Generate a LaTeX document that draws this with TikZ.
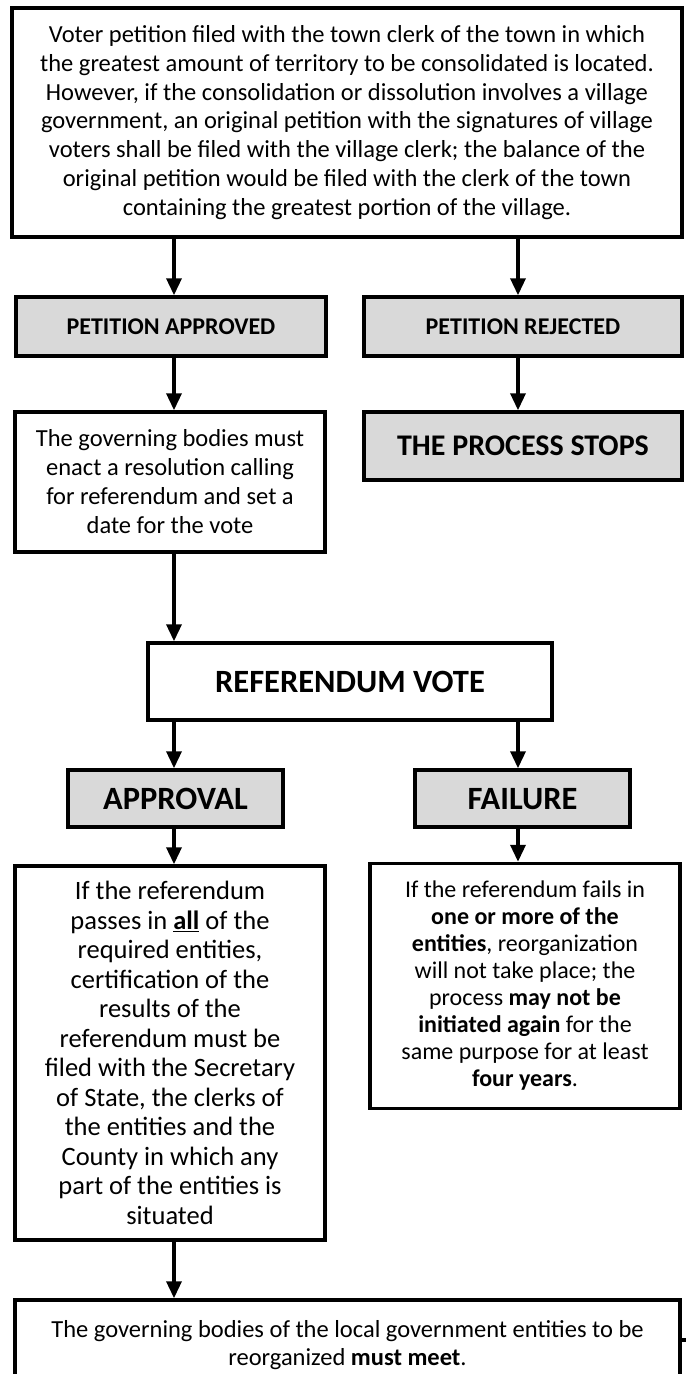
\documentclass[tikz,border=0pt]{standalone}
\usepackage{fontspec}
\setmainfont{Carlito}
\usetikzlibrary{arrows.meta}
\definecolor{boxgrey}{HTML}{D9D9D9}

\begin{document}
\begin{tikzpicture}[x=1pt, y=1pt, line width=3.5pt,
    box/.style={draw, fill=white, inner sep=0pt, align=center,
      font=\fontsize{24.5}{28.7}\selectfont},
    greybox/.style={box, fill=boxgrey, text height=15.5pt, text depth=0pt,
      font=\bfseries\fontsize{24}{28}\selectfont},
    bigbox/.style={greybox, text height=21pt,
      font=\bfseries\fontsize{32.5}{36}\selectfont},
    arr/.style={-{Triangle[width=15pt,length=17pt]}, line width=3.5pt}]
  \fill[white] (0,0) rectangle (686,-1374);
  \useasboundingbox (0,0) rectangle (686,-1374);
  \coordinate (colL) at (174,0);
  \coordinate (colR) at (518,0);
  % petition
  \node[box, minimum width=670pt, minimum height=229pt] (petition) at (347,-122.5)
    {Voter petition filed with the town clerk of the town in which\\
     the greatest amount of territory to be consolidated is located.\\
     However, if the consolidation or dissolution involves a village\\
     government, an original petition with the signatures of village\\
     voters shall be filed with the village clerk; the balance of the\\
     original petition would be filed with the clerk of the town\\
     containing the greatest portion of the village.};
  \node[greybox, minimum width=310pt, minimum height=59pt] (approved) at (171,-326.5)
    {PETITION APPROVED};
  \node[greybox, minimum width=318pt, minimum height=59pt] (rejected) at (523,-326.5)
    {PETITION REJECTED};
  \node[box, minimum width=310pt, minimum height=140pt,
    font=\fontsize{24.5}{29}\selectfont] (resolution) at (170,-482)
    {The governing bodies must\\ enact a resolution calling\\
     for referendum and set a\\ date for the vote};
  \node[greybox, minimum width=318pt, minimum height=68pt, text height=19.3pt,
    font=\bfseries\fontsize{30}{34}\selectfont] (stops) at (523,-446)
    {THE PROCESS STOPS};
  % referendum
  \node[bigbox, fill=white, minimum width=404pt, minimum height=77pt] (vote) at (350,-681.5)
    {REFERENDUM VOTE};
  \node[bigbox, minimum width=215pt, minimum height=57pt] (approval) at (175.5,-798.5)
    {APPROVAL};
  \node[bigbox, minimum width=215pt, minimum height=57pt] (failure) at (522.5,-798.5)
    {FAILURE};
  \node[box, minimum width=310pt, minimum height=374pt,
    font=\fontsize{26.5}{29.5}\selectfont] (passes) at (170,-1053)
    {If the referendum\\ passes in \textbf{\underline{all}} of the\\ required entities,\\
     certification of the\\ results of the\\ referendum must be\\
     filed with the Secretary\\ of State, the clerks of\\ the entities and the\\
     County in which any\\ part of the entities is\\ situated};
  \node[box, minimum width=310pt, minimum height=245pt,
    font=\fontsize{24}{27}\selectfont] (fails) at (525,-986)
    {If the referendum fails in\\ \textbf{one or more of the}\\
     \textbf{entities}, reorganization\\ will not take place; the\\
     process \textbf{may not be}\\ \textbf{initiated again} for the\\
     same purpose for at least\\ \textbf{four years}.};
  \node[box, minimum width=665pt, minimum height=90pt] (meet) at (347.5,-1345)
    {The governing bodies of the local government entities to be\\
     reorganized \textbf{must meet}.};
  \coordinate (stub) at (686,-1340);
  \draw (meet.east |- stub) -- (stub);
  % arrows
  \draw[arr] (petition.south -| colL) -- (approved.north -| colL);
  \draw[arr] (petition.south -| colR) -- (rejected.north -| colR);
  \draw[arr] (approved.south -| colL) -- (resolution.north -| colL);
  \draw[arr] (rejected.south -| colR) -- (stops.north -| colR);
  \draw[arr] (resolution.south -| colL) -- (vote.north -| colL);
  \draw[arr] (vote.south -| colL) -- (approval.north -| colL);
  \draw[arr] (vote.south -| colR) -- (failure.north -| colR);
  \draw[arr] (approval.south -| colL) -- (passes.north -| colL);
  \draw[arr] (failure.south -| colR) -- (fails.north -| colR);
  \draw[arr] (passes.south -| colL) -- (meet.north -| colL);
\end{tikzpicture}
\end{document}
